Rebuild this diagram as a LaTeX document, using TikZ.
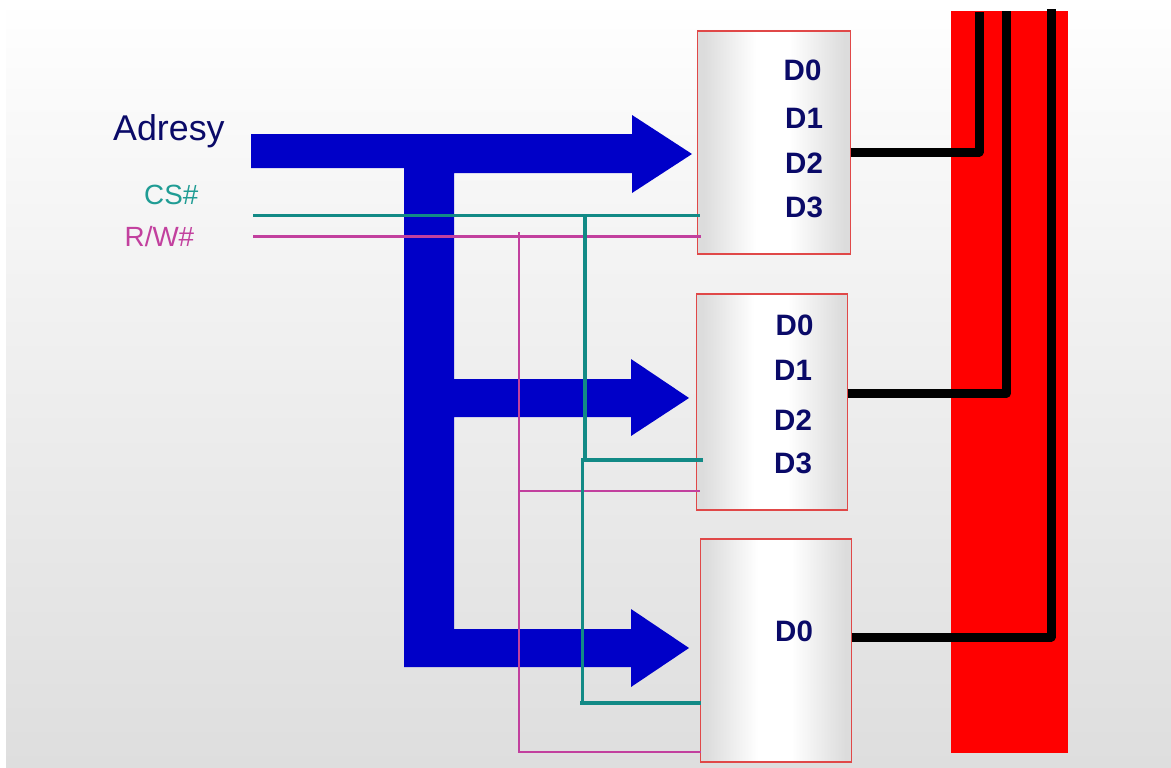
\documentclass[tikz,border=0pt]{standalone}
\usepackage{fontspec}
\setmainfont{Liberation Sans}
\definecolor{navytxt}{HTML}{0A0A68}
\definecolor{busblue}{HTML}{0000C8}
\definecolor{csteal}{HTML}{128A86}
\definecolor{cslabel}{HTML}{1F9C94}
\definecolor{rwmag}{HTML}{C2409E}
\definecolor{boxred}{HTML}{E04848}
\definecolor{boxgray}{HTML}{DCDCDC}
\definecolor{bgtop}{HTML}{FFFFFF}
\definecolor{bghi}{HTML}{FBFBFB}
\definecolor{bgmid}{HTML}{F3F3F3}
\definecolor{bgbot}{HTML}{DEDEDE}
\pgfdeclareverticalshading{bgshade}{100bp}{color(0bp)=(bgbot); color(25bp)=(bgbot); color(58bp)=(bgmid); color(70bp)=(bghi); color(75bp)=(bgtop); color(100bp)=(bgtop)}
\pgfdeclarehorizontalshading{modshade}{100bp}{color(0bp)=(boxgray); color(27bp)=(boxgray); color(44bp)=(white); color(55bp)=(white); color(73bp)=(boxgray); color(100bp)=(boxgray)}
\tikzset{
  x=1pt,y=-1pt,
  modbox/.style={draw=boxred,line width=1.2pt,shading=modshade,anchor=north west,inner sep=0pt,outer sep=0pt},
  pinlabel/.style={anchor=base west,inner sep=0pt,text=navytxt,font=\fontsize{29.5}{32}\selectfont\bfseries},
  databus/.style={draw=black,line width=9pt,line join=round},
  csline/.style={draw=csteal,line width=2.2pt},
  csthick/.style={draw=csteal,line width=3.5pt},
  rwline/.style={draw=rwmag,line width=2.2pt},
}
\begin{document}
\begin{tikzpicture}
\useasboundingbox (0,0) rectangle (1171,768);
\fill[white] (0,0) rectangle (1171,768);
\shade[shading=bgshade] (6,0) rectangle (1171,768);

% red bus
\node[fill=red,draw=none,anchor=north west,inner sep=0pt,outer sep=0pt,minimum width=116.5pt,minimum height=742pt] (redbus) at (951,11) {};

% modules
\node[modbox,minimum width=153pt,minimum height=223pt] (m1) at (697.7,31) {};
\node[modbox,minimum width=151pt,minimum height=216pt] (m2) at (696.7,294) {};
\node[modbox,minimum width=151pt,minimum height=223pt] (m3) at (700.7,539) {};

% address bus
\fill[busblue] (251,134) -- (632,134) -- (632,115) -- (692,154) -- (632,193) -- (632,173)
  -- (454,173) -- (454,379) -- (631,379) -- (631,359) -- (689,398) -- (631,436) -- (631,417)
  -- (454,417) -- (454,629) -- (631,629) -- (631,609) -- (689,648) -- (631,687) -- (631,667)
  -- (404,667) -- (404,168) -- (251,168) -- cycle;

% labels
\node[anchor=base west,inner sep=0pt,text=navytxt,font=\fontsize{35.8}{38}\selectfont] (adresy) at (113,140) {Adresy};
\node[anchor=base west,inner sep=0pt,text=cslabel,font=\fontsize{27.8}{30}\selectfont] (cs) at (144,204.5) {CS\#};
\node[anchor=base west,inner sep=0pt,text=rwmag,font=\fontsize{27.8}{30}\selectfont] (rw) at (124.5,246.5) {R/W\#};

\node[pinlabel] (a0) at (783.5,80.5) {D0};
\node[pinlabel] (a1) at (785,128.5) {D1};
\node[pinlabel] (a2) at (785,173.5) {D2};
\node[pinlabel] (a3) at (785,217.5) {D3};
\node[pinlabel] (b0) at (775.5,335.5) {D0};
\node[pinlabel] (b1) at (774,380.5) {D1};
\node[pinlabel] (b2) at (774,430.5) {D2};
\node[pinlabel] (b3) at (774,473.5) {D3};
\node[pinlabel] (c0) at (775,641.5) {D0};

% CS lines
\coordinate (csstart) at (253,215.5);
\coordinate (rwstart) at (253,236.5);
\coordinate (cstap) at (585,215.5);
\coordinate (csmid) at (585,460);
\coordinate (csmidl) at (582.5,460);
\coordinate (cslow) at (582.5,703);
\coordinate (rwtap) at (519,232);
\coordinate (rwmid) at (519,491);
\coordinate (rwlow) at (519,752);

\draw[rwline] (rwstart) -- ([xshift=3.5pt]m1.west |- rwstart);
\draw[rwline] (rwtap) -- (rwlow) -- (m3.west |- rwlow);
\draw[rwline] (rwmid) -- ([xshift=3pt]m2.west |- rwmid);
\draw[csline] (csstart) -- ([xshift=2pt]m1.west |- csstart);
\draw[csthick] (cstap) -- (csmid);
\draw[csthick] (csmidl |- csmid) ++(-1.5,0) -- ([xshift=6pt]m2.west |- csmid);
\draw[csthick] (csmidl) -- (cslow);
\draw[csthick] ([xshift=-2.5pt]cslow) -- (m3.west |- cslow);

% data lines
\coordinate (t1) at (979,12);
\coordinate (t2) at (1006.5,11);
\coordinate (t3) at (1051,9.5);
\draw[databus] ([yshift=-9.5pt]m1.east) -| (t1);
\draw[databus] ([yshift=9pt]m2.east) -- ([yshift=9pt]m2.east -| t2) -- (t2);
\draw[databus] ([yshift=13.5pt]m3.east) -| (t3);
\end{tikzpicture}
\end{document}
